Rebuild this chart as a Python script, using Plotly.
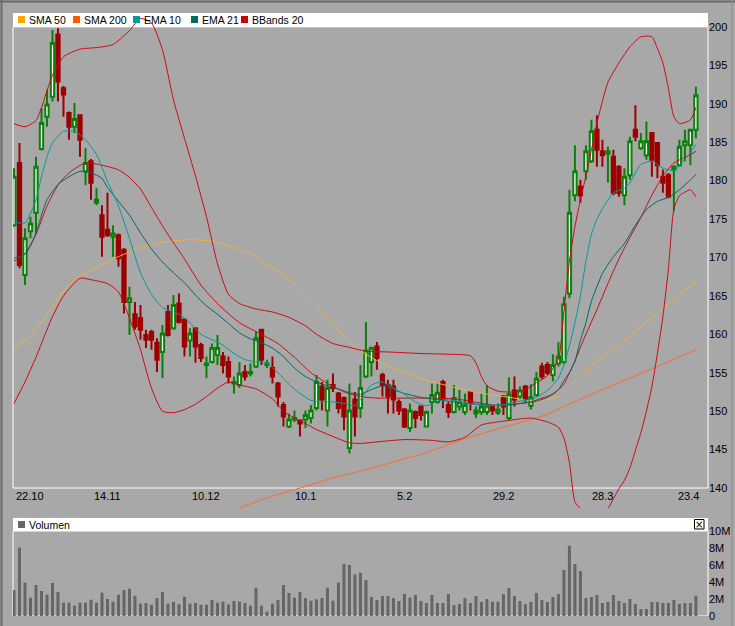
import plotly.graph_objects as go

W, H = 735, 626
BG = '#a8a8a8'

# OHLC per trading day (index 0 = 22.10)
opens = [174.2, 182.3, 167.7, 173.4, 175.8, 184.1, 188.3, 190.9, 199.0, 192.0,
         188.8, 187.0, 188.5, 181.2, 182.5, 177.1, 175.5, 173.6, 172.7, 172.9,
         171.0, 164.2, 162.6, 162.1, 159.9, 160.3, 158.9, 157.7, 162.9, 160.8,
         164.0, 161.9, 159.2, 160.8, 158.6, 156.0, 156.4, 157.3, 157.1, 156.4,
         153.6, 153.4, 155.1, 154.9, 155.8, 160.6, 156.0, 155.6, 153.6, 150.8,
         148.0, 148.9, 148.8, 148.9, 149.1, 150.4, 153.2, 150.1, 153.4, 152.3,
         151.7, 145.2, 151.5, 150.4, 154.5, 156.4, 158.4, 154.7, 153.4, 153.2,
         151.2, 150.2, 147.8, 149.9, 150.6, 148.0, 151.2, 151.2, 153.8, 150.8,
         149.9, 150.6, 149.9, 152.5, 149.7, 149.9, 149.9, 150.6, 149.8, 151.9,
         149.1, 152.7, 151.9, 153.2, 150.7, 152.1, 155.8, 156.0, 154.7, 156.2,
         156.4, 165.3, 178.1, 179.2, 181.2, 182.5, 186.6, 183.8, 183.5, 183.1,
         181.8, 178.1, 180.7, 186.6, 184.2, 183.3, 186.2, 184.9, 180.5, 180.7,
         181.4, 182.0, 184.6, 184.6, 186.6]
highs = [181.6, 184.9, 173.8, 175.3, 183.1, 189.4, 191.8, 199.6, 199.8, 192.3,
         189.0, 190.1, 188.6, 184.2, 182.8, 179.0, 176.8, 178.4, 174.2, 173.1,
         171.2, 166.2, 164.2, 163.8, 160.6, 160.6, 159.5, 161.2, 163.8, 165.1,
         165.3, 162.1, 160.8, 160.8, 158.9, 157.1, 158.8, 159.9, 157.7, 157.1,
         154.5, 156.4, 156.0, 156.2, 160.3, 160.6, 156.7, 157.1, 153.8, 151.2,
         149.7, 150.1, 148.8, 150.1, 150.8, 154.7, 153.8, 154.1, 154.9, 152.5,
         151.9, 153.6, 152.5, 156.0, 161.6, 158.4, 159.0, 155.0, 154.1, 154.1,
         151.5, 150.4, 151.0, 150.1, 150.7, 150.1, 153.6, 153.6, 154.1, 151.2,
         153.4, 152.8, 152.3, 152.5, 150.6, 152.3, 153.4, 150.8, 151.0, 152.1,
         154.4, 154.5, 153.2, 153.4, 153.5, 155.1, 156.3, 156.4, 157.4, 159.0,
         164.9, 178.8, 184.6, 180.1, 184.6, 187.9, 188.5, 185.3, 184.4, 184.0,
         182.0, 181.6, 185.7, 189.8, 186.2, 187.7, 186.2, 184.9, 181.4, 181.0,
         182.0, 185.3, 186.6, 186.6, 192.2]
lows = [174.0, 168.6, 166.4, 172.5, 173.1, 183.9, 187.0, 190.3, 190.3, 188.3,
        185.3, 186.2, 183.1, 179.4, 177.5, 176.8, 170.1, 172.7, 170.1, 168.8,
        162.7, 159.9, 160.6, 159.3, 158.2, 158.0, 155.1, 154.3, 159.7, 160.6,
        161.4, 157.1, 157.1, 156.3, 156.4, 154.3, 156.2, 156.0, 154.9, 153.6,
        152.3, 153.0, 154.0, 154.5, 155.6, 156.0, 155.6, 153.6, 150.6, 148.0,
        147.8, 148.6, 146.7, 147.8, 148.4, 150.1, 150.1, 148.0, 152.5, 149.7,
        147.5, 144.5, 146.7, 149.1, 154.3, 154.5, 155.4, 151.9, 149.7, 149.7,
        149.5, 147.8, 147.3, 147.8, 148.8, 147.9, 149.7, 151.0, 150.4, 149.1,
        149.7, 150.1, 149.5, 150.1, 149.1, 149.5, 149.5, 149.5, 149.5, 149.5,
        148.8, 150.6, 151.5, 151.2, 150.2, 151.9, 154.2, 154.7, 153.9, 155.8,
        156.1, 164.7, 177.3, 177.1, 180.1, 182.3, 181.8, 181.8, 179.7, 178.1,
        177.9, 176.8, 180.1, 185.1, 184.0, 182.7, 180.5, 180.3, 178.4, 177.7,
        176.0, 181.8, 182.5, 182.0, 185.5]
closes = [180.5, 169.0, 172.5, 174.4, 181.8, 187.5, 189.9, 197.9, 192.9, 191.2,
          187.0, 188.0, 185.3, 182.3, 179.7, 177.5, 172.7, 172.9, 173.1, 169.9,
          164.2, 164.7, 161.0, 160.6, 159.3, 159.3, 156.7, 160.1, 159.9, 163.8,
          161.6, 158.4, 160.1, 158.4, 156.9, 156.2, 158.2, 158.2, 156.0, 154.5,
          153.8, 154.9, 154.5, 155.1, 159.5, 156.7, 156.2, 154.5, 151.9, 149.3,
          148.9, 149.1, 148.4, 149.5, 150.1, 153.8, 151.5, 153.0, 153.0, 150.4,
          149.3, 150.1, 149.3, 153.0, 157.9, 158.2, 156.9, 153.4, 151.9, 151.5,
          150.1, 148.0, 150.1, 149.1, 149.5, 149.9, 152.1, 152.4, 151.5, 149.9,
          151.7, 151.2, 150.8, 151.2, 150.1, 150.6, 150.7, 150.1, 150.2, 150.6,
          152.2, 151.5, 152.7, 151.6, 151.8, 154.2, 154.5, 155.0, 156.0, 157.1,
          163.9, 175.8, 181.2, 178.1, 183.8, 186.4, 184.0, 183.3, 183.8, 178.4,
          178.4, 180.5, 185.1, 185.7, 185.1, 185.1, 182.7, 182.0, 179.7, 177.9,
          181.8, 184.4, 185.1, 186.6, 191.1]
# volume in millions
volume = [3.06, 8.04, 3.92, 2.16, 3.65, 2.94, 2.51, 3.88, 2.82, 1.57,
          1.57, 1.22, 1.57, 1.57, 1.92, 1.57, 2.75, 2.00, 1.69, 2.51,
          3.06, 3.22, 2.39, 1.45, 1.53, 1.33, 2.12, 2.82, 1.45, 1.65,
          1.37, 2.27, 1.45, 1.53, 1.33, 1.33, 1.88, 1.57, 1.69, 1.37,
          1.76, 1.69, 1.53, 1.22, 3.33, 1.22, 0.51, 1.45, 1.88, 3.65,
          2.71, 2.16, 2.82, 2.12, 1.80, 1.96, 2.12, 3.33, 1.80, 3.92,
          6.12, 6.00, 4.90, 5.10, 4.24, 2.24, 1.88, 2.35, 2.35, 2.12,
          1.76, 2.59, 2.16, 2.47, 1.76, 1.53, 2.47, 1.53, 1.53, 2.59,
          1.29, 1.41, 2.12, 1.53, 2.35, 1.65, 2.00, 1.69, 1.69, 2.59,
          3.29, 2.35, 1.76, 1.41, 1.65, 2.71, 1.88, 1.65, 2.24, 2.59,
          5.41, 8.27, 6.12, 5.29, 2.12, 2.24, 2.47, 1.53, 1.65, 2.47,
          1.76, 1.53, 2.00, 1.41, 0.82, 0.82, 1.65, 1.65, 1.53, 1.53,
          1.88, 1.41, 1.53, 1.53, 2.39]

date_idx = [0, 17, 35, 53, 71, 89, 107, 125]
date_lbl = ['22.10', '14.11', '10.12', '10.1', '5.2', '29.2', '28.3', '23.4']

# indicator lines, sampled at day indices
sma50_i = [0, 3, 6, 9, 12, 15, 19, 22, 25, 28, 32, 36, 40, 43, 46, 50, 54, 58, 61, 64,
           67, 71, 75, 79, 83, 87, 91, 94, 97, 99, 102, 105, 109, 113, 117, 121, 124]
sma50_v = [158.2, 159.8, 162.6, 165.6, 167.6, 168.7, 170.1, 171.0, 171.7, 172.1, 172.3,
           172.1, 171.3, 170.5, 169.1, 167.2, 164.5, 161.4, 158.9, 157.4, 156.2, 155.0,
           154.0, 153.3, 152.6, 152.1, 151.7, 151.3, 151.5, 151.9, 153.9, 155.9, 158.0,
           160.4, 162.8, 165.2, 166.8]
sma200_i = [41, 46, 52, 58, 63, 68, 74, 80, 86, 92, 97, 100, 105, 111, 117, 124]
sma200_v = [137.4, 138.7, 140.0, 141.3, 142.2, 143.2, 144.4, 145.9, 147.3, 148.5,
            149.6, 150.6, 152.2, 154.0, 155.8, 158.0]
ema10_i = [0, 2, 4, 5, 6, 7, 9, 11, 13, 15, 17, 19, 21, 23, 25, 27, 30, 32, 34, 36,
           38, 40, 42, 44, 46, 48, 50, 52, 54, 56, 58, 60, 62, 63, 65, 67, 69, 71, 73,
           75, 77, 79, 81, 83, 85, 87, 89, 91, 93, 95, 97, 99, 100, 101, 102, 103, 104,
           105, 106, 107, 109, 111, 112, 113, 114, 116, 118, 120, 121, 122, 123, 124]
ema10_v = [174.6, 174.5, 177.5, 180.5, 183.1, 184.9, 186.4, 186.4, 185.3, 183.4, 179.9,
           176.7, 172.5, 168.0, 165.2, 163.5, 162.6, 161.5, 160.0, 159.3, 158.6, 157.5,
           156.7, 156.4, 156.2, 155.0, 153.5, 152.3, 151.4, 151.2, 151.2, 151.0, 150.7,
           151.5, 153.4, 153.8, 153.0, 152.2, 151.2, 150.7, 151.3, 151.5, 151.2, 150.9,
           150.8, 150.7, 150.8, 151.2, 151.4, 151.8, 152.7, 154.3, 156.0, 158.5, 161.5,
           165.0, 169.5, 173.0, 175.0, 176.3, 178.4, 179.0, 179.7, 181.0, 182.1, 182.5,
           181.6, 181.3, 181.9, 182.8, 183.6, 184.7]
ema21_i = [0, 1, 2, 3, 4, 5, 6, 8, 10, 12, 14, 16, 17, 19, 21, 23, 25, 27, 29, 31, 33,
           35, 37, 39, 41, 43, 45, 47, 49, 51, 53, 55, 57, 59, 61, 63, 65, 67, 69, 71,
           74, 77, 80, 83, 86, 89, 92, 95, 97, 99, 100, 101, 102, 103, 104, 105, 107,
           109, 111, 113, 115, 117, 119, 121, 123, 124]
ema21_v = [169.9, 170.1, 170.4, 171.5, 173.2, 175.5, 177.5, 179.5, 180.5, 181.2, 181.0,
           180.3, 179.1, 177.3, 175.5, 173.2, 171.1, 169.4, 168.0, 166.7, 165.1, 163.7,
           162.6, 161.4, 160.2, 159.4, 158.9, 158.2, 157.1, 155.6, 154.5, 153.8, 153.3,
           152.9, 152.4, 152.2, 152.8, 153.3, 152.8, 152.3, 151.8, 151.5, 151.2, 151.0,
           150.8, 150.8, 151.0, 151.3, 151.8, 152.8, 154.0, 155.0, 156.5, 159.2, 161.5,
           164.3, 167.9, 170.1, 171.8, 174.2, 176.2, 177.3, 177.8, 178.8, 180.1, 180.8]
bbu_i = [0, 2, 4, 5, 7, 9, 12, 15, 18, 21, 23, 25, 27, 29, 31, 33, 35, 37, 39, 41, 44,
         47, 50, 53, 55, 58, 61, 64, 68, 74, 79, 83, 84, 85, 86, 88, 91, 93, 95, 97, 99,
         100, 101, 102, 103, 104, 105, 106, 107, 108, 110, 112, 114, 116, 117, 118, 119,
         120, 121, 123, 124]
bbu_v = [187.4, 187.0, 187.8, 189.5, 193.7, 196.1, 197.1, 197.3, 197.7, 199.5, 201.1,
         200.5, 197.0, 190.5, 185.5, 180.6, 175.3, 169.2, 165.2, 164.0, 163.3, 162.9,
         162.2, 161.1, 160.0, 158.8, 158.3, 157.8, 157.7, 157.5, 157.4, 157.2, 156.3,
         154.5, 153.3, 152.6, 152.5, 152.8, 153.7, 154.6, 156.8, 163.0, 169.5, 174.0,
         177.5, 180.6, 184.0, 187.5, 190.3, 192.8, 195.3, 197.4, 198.7, 198.7, 197.2,
         195.3, 192.0, 188.3, 187.4, 187.9, 189.5]
bbm_i = [0, 2, 4, 6, 8, 10, 13, 16, 19, 21, 23, 25, 27, 29, 31, 34, 37, 41, 45, 48, 51,
         54, 57, 60, 63, 66, 70, 75, 80, 83, 86, 88, 91, 94, 96, 98, 99, 100, 101, 102,
         103, 104, 106, 108, 110, 112, 114, 116, 118, 120, 122, 124]
bbm_v = [169.5, 170.5, 173.0, 176.7, 179.4, 181.0, 182.3, 182.0, 181.4, 180.4, 178.9,
         176.5, 174.1, 171.9, 169.8, 166.4, 164.0, 161.5, 160.0, 158.8, 157.0, 155.0,
         153.6, 152.5, 151.9, 151.7, 151.7, 151.7, 151.6, 151.3, 150.9, 150.7, 150.9,
         151.2, 151.7, 152.2, 152.8, 153.5, 155.0, 156.5, 158.3, 160.0, 163.2, 166.6,
         169.8, 172.6, 175.2, 178.1, 180.6, 182.3, 183.0, 183.8]
bbl_i = [0, 2, 4, 5, 7, 9, 12, 14, 17, 19, 21, 23, 25, 27, 29, 31, 33, 35, 37, 39, 41,
         44, 47, 49, 51, 53, 55, 57, 59, 61, 63, 66, 71, 76, 79, 82, 85, 88, 91, 94, 97,
         99, 100, 101, 102, 103, 104, 106, 107, 108, 109, 110, 111, 112, 113, 114, 115,
         116, 117, 118, 119, 120, 121, 122, 123, 124]
bbl_v = [151.0, 153.8, 157.0, 158.8, 162.3, 165.0, 167.3, 167.1, 166.6, 165.5, 162.1,
         158.0, 153.0, 150.0, 149.8, 150.2, 150.9, 151.9, 153.0, 153.8, 153.4, 152.9,
         151.6, 150.0, 149.1, 148.4, 147.6, 147.0, 146.4, 145.9, 145.8, 146.0, 146.3,
         146.2, 146.0, 146.6, 148.2, 148.6, 148.9, 149.1, 148.6, 147.9, 146.5, 143.3,
         138.2, 137.3, 136.5, 136.0, 136.6, 137.3, 138.6, 139.9, 141.0, 142.6, 144.9,
         147.2, 150.0, 153.2, 157.5, 162.3, 168.5, 176.3, 178.0, 178.5, 178.8, 177.9]

legend_names = ['SMA 50', 'SMA 200', 'EMA 10', 'EMA 21', 'BBands 20']
legend_cols = ['#ffa500', '#ff5a00', '#009c9c', '#006a64', '#cc0000']
legend_px = [18, 73, 133, 191, 241]

FONT = dict(family='Liberation Sans, Arial, sans-serif', size=11, color='black')
LEG_FONT = dict(family='Liberation Sans, Arial, sans-serif', size=10.5, color='black')


def px(x):
    return x / W


def py(y):
    return 1 - y / H


days = list(range(len(closes)))

fig = go.Figure()

lines = [
    (sma50_i, sma50_v, '#f0b040'),
    (sma200_i, sma200_v, '#ff6a30'),
    (bbu_i, bbu_v, '#cc0a14'),
    (bbm_i, bbm_v, '#cc0a14'),
    (bbl_i, bbl_v, '#cc0a14'),
    (ema21_i, ema21_v, '#006a64'),
    (ema10_i, ema10_v, '#009c9c'),
]
for xi, yv, col in lines:
    fig.add_trace(go.Scatter(x=xi, y=yv, mode='lines',
                             line=dict(color=col, width=1, shape='spline', smoothing=0.6),
                             hoverinfo='skip', showlegend=False))

fig.add_trace(go.Candlestick(
    x=days, open=opens, high=highs, low=lows, close=closes,
    increasing=dict(line=dict(color='#0a800a', width=2), fillcolor='#ffffff'),
    decreasing=dict(line=dict(color='#9c0000', width=2), fillcolor='#9c0000'),
    whiskerwidth=0, showlegend=False))

fig.add_trace(go.Bar(x=days, y=[v * 1e6 for v in volume], width=0.55,
                     marker=dict(color='#666666', line=dict(width=0)),
                     xaxis='x2', yaxis='y2', showlegend=False))

shapes = []
annotations = []

# legend strips
for y0, y1 in [(13, 27), (518, 531)]:
    shapes.append(dict(type='rect', xref='paper', yref='paper', x0=px(13), x1=px(708),
                       y0=py(y1), y1=py(y0), fillcolor='white', line=dict(width=0),
                       layer='below'))
for name, col, x0 in zip(legend_names, legend_cols, legend_px):
    shapes.append(dict(type='rect', xref='paper', yref='paper', x0=px(x0), x1=px(x0 + 7),
                       y0=py(23), y1=py(16), fillcolor=col, line=dict(width=0)))
    annotations.append(dict(text=name, xref='paper', yref='paper', x=px(x0 + 9), y=py(20),
                            xanchor='left', yanchor='middle', showarrow=False, font=LEG_FONT))
shapes.append(dict(type='rect', xref='paper', yref='paper', x0=px(18), x1=px(25),
                   y0=py(528), y1=py(521), fillcolor='#666666', line=dict(width=0)))
annotations.append(dict(text='Volumen', xref='paper', yref='paper', x=px(27), y=py(525),
                        xanchor='left', yanchor='middle', showarrow=False, font=LEG_FONT))
# close box on the volume pane
shapes.append(dict(type='rect', xref='paper', yref='paper', x0=px(694.5), x1=px(704),
                   y0=py(529), y1=py(519.5), fillcolor='white',
                   line=dict(color='black', width=1)))
annotations.append(dict(text='×', xref='paper', yref='paper', x=px(699.3), y=py(524.3),
                        xanchor='center', yanchor='middle', showarrow=False,
                        font=dict(family='DejaVu Sans', size=10, color='black')))

# white frames
shapes.append(dict(type='rect', xref='paper', yref='y', x0=px(13), x1=px(708), y0=140, y1=200,
                   line=dict(color='white', width=1), layer='below'))
shapes.append(dict(type='rect', xref='paper', yref='y2', x0=px(13), x1=px(708), y0=0, y1=1e7,
                   line=dict(color='white', width=1), layer='below'))
# outer window edge
shapes.append(dict(type='line', xref='paper', yref='paper', x0=0, x1=1, y0=py(1.5), y1=py(1.5),
                   line=dict(color='#6a6a6a', width=2)))
shapes.append(dict(type='line', xref='paper', yref='paper', x0=px(1.5), x1=px(1.5), y0=0, y1=1,
                   line=dict(color='#6a6a6a', width=2)))
shapes.append(dict(type='line', xref='paper', yref='paper', x0=px(732), x1=px(732), y0=0, y1=1,
                   line=dict(color='#8c8c8c', width=1)))

# date labels
for k, (i, lbl) in enumerate(zip(date_idx, date_lbl)):
    anchor = 'left' if k == 0 else ('right' if k == len(date_idx) - 1 else 'center')
    annotations.append(dict(text=lbl, xref='x', yref='y', x=i, y=138.95, xanchor=anchor,
                            yanchor='middle', showarrow=False, font=FONT))

xr = [-0.18, 126.2]
fig.update_layout(
    width=W, height=H, margin=dict(l=0, r=0, t=0, b=0, autoexpand=False),
    paper_bgcolor=BG, plot_bgcolor=BG, showlegend=False,
    font=FONT, dragmode=False,
    shapes=shapes, annotations=annotations,
    boxgap=0.4, boxgroupgap=0,
    xaxis=dict(domain=[px(13), px(708)], range=xr, showgrid=False, zeroline=False,
               showticklabels=False, showline=False, rangeslider=dict(visible=False),
               anchor='y', fixedrange=True, automargin=False),
    yaxis=dict(domain=[py(508), py(13)], range=[137.4, 201.8], side='right', dtick=5,
               showgrid=False, zeroline=False, showline=False, ticks='',
               tickfont=FONT, anchor='x', fixedrange=True, automargin=False),
    xaxis2=dict(domain=[px(13), px(708)], range=xr, showgrid=False, zeroline=False,
                showticklabels=False, showline=False, anchor='y2', fixedrange=True,
                automargin=False),
    yaxis2=dict(domain=[py(616), py(531)], range=[0, 1e7], side='right',
                tickvals=[0, 2e6, 4e6, 6e6, 8e6, 1e7],
                ticktext=['0', '2M', '4M', '6M', '8M', '10M'],
                showgrid=False, zeroline=False, showline=False, ticks='',
                tickfont=FONT, anchor='x2', fixedrange=True, automargin=False),
)

# the page body has a default 8px margin; drop it so the figure fills the window
fig.write_html('out.html', config={'displayModeBar': False},
               post_script="document.body.style.margin='0';"
                           "document.body.style.overflow='hidden';")
